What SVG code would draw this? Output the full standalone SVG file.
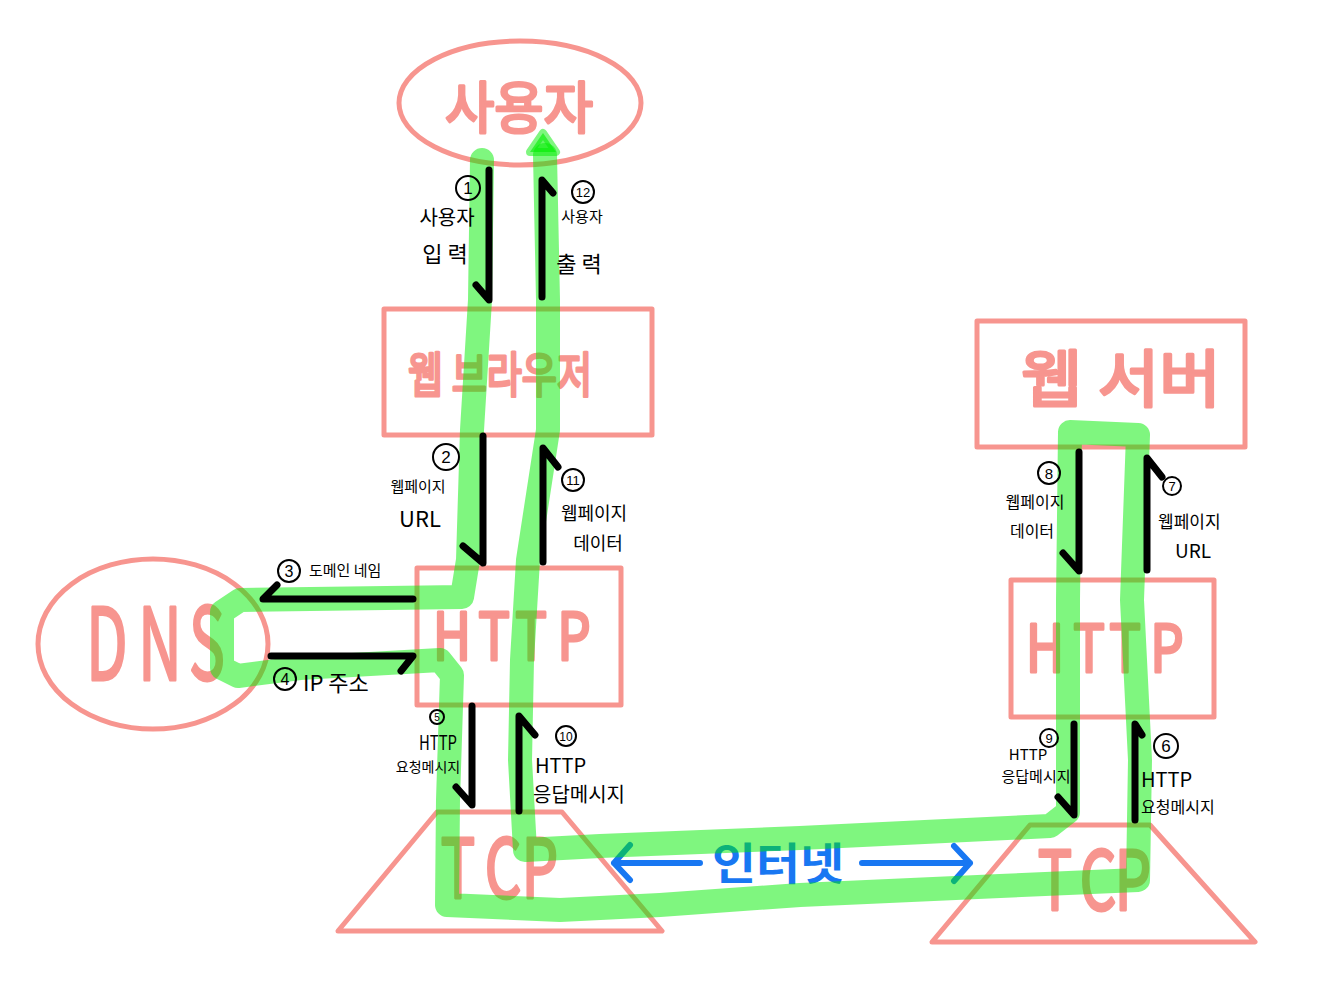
<svg xmlns="http://www.w3.org/2000/svg" width="1317" height="1000" viewBox="0 0 1317 1000">
<style>
.pk{fill:none;stroke:#f7958f;stroke-width:5;stroke-linejoin:round;stroke-linecap:round}
.pt{fill:#f7958f;stroke:#f7958f;stroke-width:3;stroke-linejoin:round;font-family:"Noto Sans CJK KR","Liberation Sans",sans-serif;text-anchor:middle}
.ar{fill:none;stroke:#000;stroke-width:7;stroke-linecap:round;stroke-linejoin:round}
.lb{fill:#000;font-family:"Noto Sans CJK KR","Liberation Sans",sans-serif}
.c{fill:none;stroke:#000;stroke-width:2}
.n{fill:#000;font-family:"Liberation Sans",sans-serif;text-anchor:middle}
.m{text-anchor:middle}
</style>
<rect width="1317" height="1000" fill="#fff"/>
<g id="user">
<ellipse class="pk" cx="520" cy="103" rx="121" ry="62"/>
<text class="pt" x="519" y="128" font-size="56" textLength="148" lengthAdjust="spacingAndGlyphs">사용자</text>
</g>
<g id="browser">
<rect class="pk" x="384" y="309" width="268" height="126"/>
<text class="pt" x="500" y="392" font-size="48" textLength="184" lengthAdjust="spacingAndGlyphs">웹 브라우저</text>
</g>
<g id="http-left">
<rect class="pk" x="417" y="568" width="204" height="137"/>
<text class="pt" transform="scale(0.8,1)" x="565 617.5 663.75 717.5" y="660" font-size="66" stroke-width="4">HTTP</text>
</g>
<g id="dns">
<ellipse class="pk" cx="153" cy="644" rx="115" ry="85"/>
<text class="pt" transform="scale(0.6,1)" x="178.3 266.7 345" y="680" font-size="100" stroke-width="5">DNS</text>
</g>
<g id="tcp-left">
<polygon class="pk" points="437,812 562,812 662,931 338,931"/>
<text class="pt" transform="scale(0.7,1)" x="654.3 718.6 771.4" y="898" font-size="82" stroke-width="5">TCP</text>
</g>
<g id="webserver">
<rect class="pk" x="977" y="321" width="268" height="126"/>
<text class="pt" x="1121" y="402" font-size="62" textLength="200" lengthAdjust="spacingAndGlyphs">웹 서버</text>
</g>
<g id="http-right">
<rect class="pk" x="1011" y="580" width="203" height="137"/>
<text class="pt" transform="scale(0.8,1)" x="1306.25 1361.25 1406.25 1458.75" y="672" font-size="66" stroke-width="4">HTTP</text>
</g>
<g id="tcp-right">
<polygon class="pk" points="1030,825 1150,825 1255,942 932,942"/>
<text class="pt" transform="scale(0.7,1)" x="1507.1 1568.6 1618.6" y="910" font-size="82" stroke-width="5">TCP</text>
</g>
<g id="internet">
<path d="M700,863 H614 M630,845 L614,863 L630,880 M862,863 H970 M954,846 L970,863 L954,881" fill="none" stroke="#1877f2" stroke-width="6" stroke-linecap="round" stroke-linejoin="round"/>
<text x="778" y="880" font-size="44" fill="#1877f2" font-family="Noto Sans CJK KR,sans-serif" text-anchor="middle" font-weight="bold" textLength="132" lengthAdjust="spacingAndGlyphs">인터넷</text>
</g>
<g id="flow">
<path d="M482,160 L480,300 L472,430 L468,560 L462,597 L240,600 L222,612 L222,668 L238,676 L300,668 L440,660 L452,675 L448,800 L447,905 L560,910 L660,905 L800,895 L1000,886 L1138,880 L1140,760 L1132,600 L1138,435 L1070,432 L1068,600 L1068,812 L1050,826 L800,838 L600,846 L525,850 L520,760 L522,660 L528,560 L548,430 L548,300 L545,155" fill="none" stroke="#00ee00" stroke-opacity="0.5" stroke-width="24" stroke-linejoin="round" stroke-linecap="round"/>
<path d="M530,152 L543,133 L556,152 Z" fill="#00ee00" fill-opacity="0.6" stroke="#00ee00" stroke-opacity="0.5" stroke-width="8" stroke-linejoin="round"/>
</g>
<g id="connectors">
<path class="ar" d="M489,170 V300 L476,285"/>
<path class="ar" d="M542,297 V180 L553,193"/>
<path class="ar" d="M483,436 V563 L463,546"/>
<path class="ar" d="M543,562 V448 L558,467"/>
<path class="ar" d="M413,599 H263 L277,585"/>
<path class="ar" d="M271,656 H413 L401,671"/>
<path class="ar" d="M472,706 V805 L456,787"/>
<path class="ar" d="M519,811 V716 L535,735"/>
<path class="ar" d="M1079,452 V571 L1063,553"/>
<path class="ar" d="M1147,570 V458 L1162,477"/>
<path class="ar" d="M1074,724 V815 L1058,797"/>
<path class="ar" d="M1135,820 V724 L1142,735"/>
</g>
<g id="labels">
<g id="l1"><circle class="c" cx="468" cy="188" r="12"/><text class="n" x="468" y="194" font-size="17">1</text>
<text class="lb m" x="447" y="225" font-size="20">사용자</text><text class="lb m" x="445" y="262" font-size="22">입 력</text></g>
<g id="l12"><circle class="c" cx="583" cy="192" r="11"/><text class="n" x="583" y="197" font-size="13">12</text>
<text class="lb m" x="582" y="222" font-size="15">사용자</text><text class="lb m" x="579" y="272" font-size="22">출 력</text></g>
<g id="l2"><circle class="c" cx="446" cy="457" r="13"/><text class="n" x="446" y="463" font-size="17">2</text>
<text class="lb m" x="418" y="492" font-size="15">웹페이지</text><text class="lb m" x="420" y="527" font-size="22">URL</text></g>
<g id="l11"><circle class="c" cx="573" cy="480" r="11"/><text class="n" x="573" y="485" font-size="13">11</text>
<text class="lb m" x="594" y="520" font-size="18">웹페이지</text><text class="lb m" x="598" y="550" font-size="18">데이터</text></g>
<g id="l3"><circle class="c" cx="289" cy="571" r="11"/><text class="n" x="289" y="577" font-size="16">3</text>
<text class="lb" x="309" y="576" font-size="15">도메인 네임</text></g>
<g id="l4"><circle class="c" cx="285" cy="679" r="11"/><text class="n" x="285" y="685" font-size="16">4</text>
<text class="lb" x="303" y="691" font-size="22">IP 주소</text></g>
<g id="l5"><circle class="c" cx="437" cy="717" r="7"/><text class="n" x="437" y="721" font-size="10">5</text>
<text class="lb m" x="438" y="750" font-size="20" textLength="38" lengthAdjust="spacingAndGlyphs">HTTP</text><text class="lb m" x="428" y="772" font-size="14">요청메시지</text></g>
<g id="l10"><circle class="c" cx="566" cy="736" r="10"/><text class="n" x="566" y="741" font-size="12">10</text>
<text class="lb" x="535" y="773" font-size="20">HTTP</text><text class="lb" x="533" y="802" font-size="20">응답메시지</text></g>
<g id="l8"><circle class="c" cx="1049" cy="473" r="11"/><text class="n" x="1049" y="479" font-size="15">8</text>
<text class="lb m" x="1035" y="508" font-size="16">웹페이지</text><text class="lb m" x="1032" y="537" font-size="16">데이터</text></g>
<g id="l7"><circle class="c" cx="1172" cy="486" r="9"/><text class="n" x="1172" y="491" font-size="13">7</text>
<text class="lb" x="1158" y="528" font-size="17">웹페이지</text><text class="lb" x="1175" y="558" font-size="19">URL</text></g>
<g id="l9"><circle class="c" cx="1049" cy="738" r="9"/><text class="n" x="1049" y="743" font-size="13">9</text>
<text class="lb m" x="1028" y="760" font-size="15">HTTP</text><text class="lb m" x="1036" y="782" font-size="15">응답메시지</text></g>
<g id="l6"><circle class="c" cx="1166" cy="746" r="12"/><text class="n" x="1166" y="752" font-size="17">6</text>
<text class="lb" x="1141" y="787" font-size="20">HTTP</text><text class="lb" x="1141" y="813" font-size="16">요청메시지</text></g>
</g>
</svg>
